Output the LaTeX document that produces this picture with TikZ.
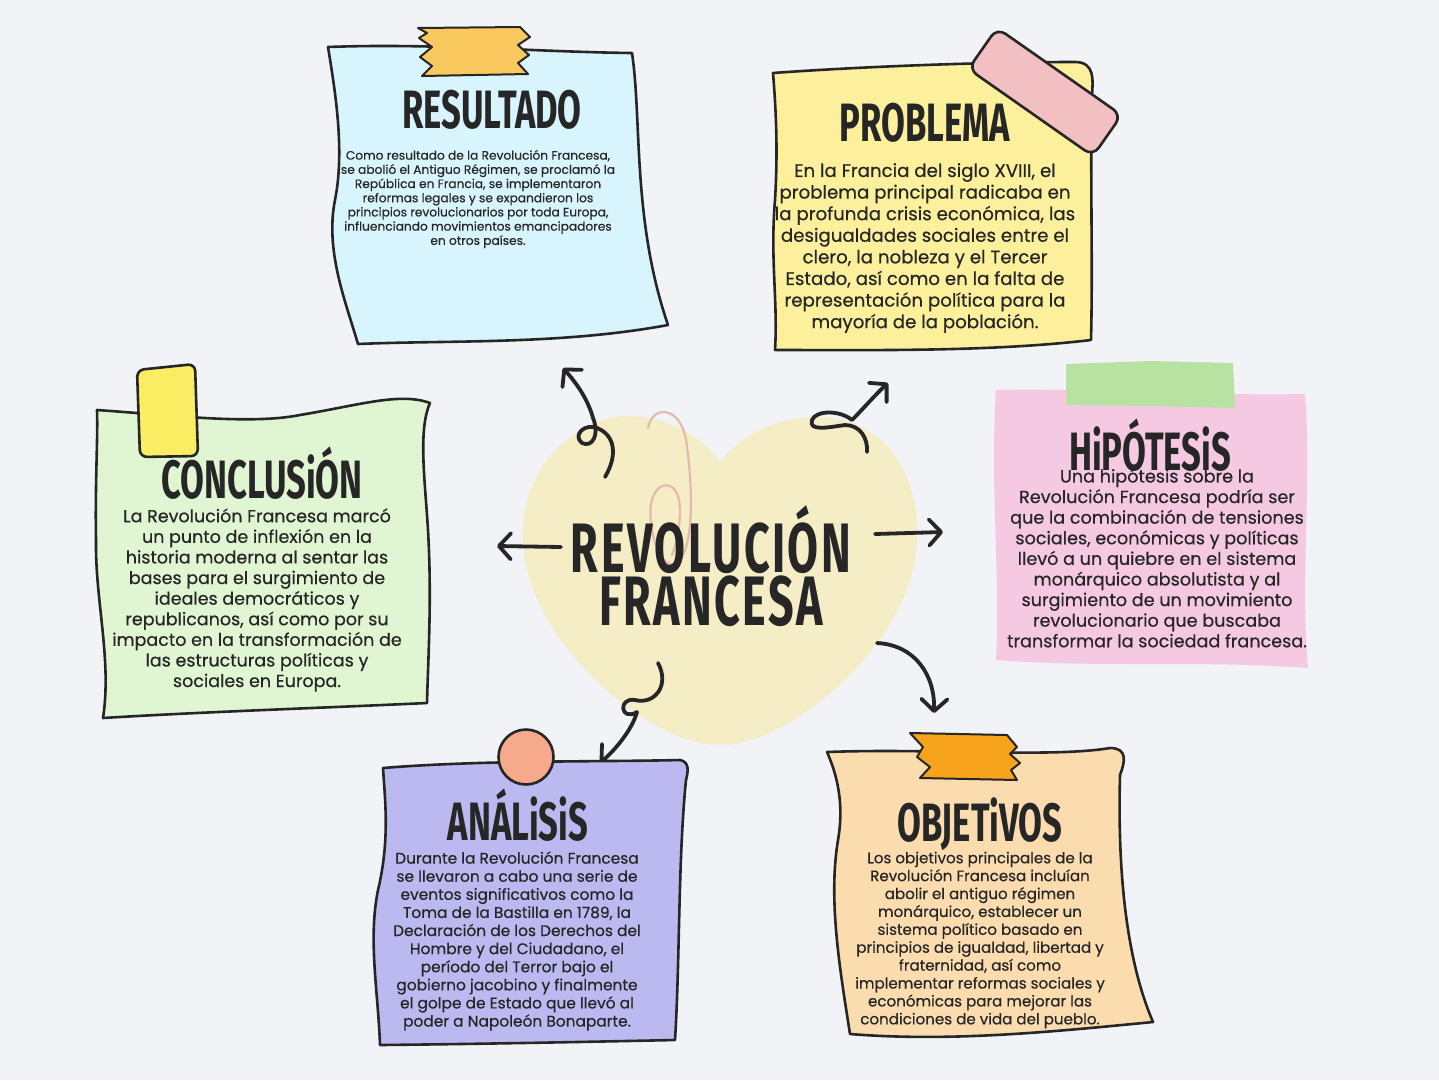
\documentclass[tikz,border=0pt]{standalone}
\usepackage{fontspec}
\setmainfont{Poppins}[FakeBold=0.5]
\newfontfamily\titlefont{Fira Sans}[FakeStretch=0.64]
\usetikzlibrary{arrows.meta}
\definecolor{bg}{HTML}{F1F3F6}
\definecolor{ink}{HTML}{262626}
\definecolor{heartc}{HTML}{F4EDC6}
\definecolor{clipc}{HTML}{E6B9AE}
\definecolor{resc}{HTML}{D8F4FD}
\definecolor{restape}{HTML}{F9C95F}
\definecolor{probc}{HTML}{FCF09D}
\definecolor{probtape}{HTML}{F2BFC3}
\definecolor{hipc}{HTML}{F6C9E2}
\definecolor{hiptape}{HTML}{B8E2A2}
\definecolor{concc}{HTML}{E0F6D2}
\definecolor{conctape}{HTML}{FAEC63}
\definecolor{anac}{HTML}{BBB9EF}
\definecolor{anadot}{HTML}{F7A98C}
\definecolor{objc}{HTML}{FBDCAF}
\definecolor{objtape}{HTML}{F8A31C}
\tikzset{
  note/.style={draw=ink, line width=2.6pt, line join=round},
  tapebox/.style={draw=ink, line width=2pt, line join=round},
  curlyarrow/.style={draw=ink, line width=3.8pt, line cap=round, line join=round,
    -{Straight Barb[length=12pt,width=26pt,line cap=round,line join=round]}},
  ttl/.style={font=\titlefont\bfseries\fontsize{54}{54}\selectfont, text=ink, anchor=base, inner sep=0pt, text depth=0pt},
  body/.style={text=ink, align=center, inner sep=0pt},
}
\begin{document}
\begin{tikzpicture}[x=1pt,y=-1pt]
\useasboundingbox (0,0) rectangle (1439,1080);
\fill[bg] (0,0) rectangle (1439,1080);

% heart
\fill[heartc] (720,462) .. controls (690,420) and (630,405) .. (590,425)
  .. controls (540,450) and (515,500) .. (525,560)
  .. controls (540,650) and (650,745) .. (720,745)
  .. controls (790,745) and (900,650) .. (915,560)
  .. controls (925,495) and (900,440) .. (850,422)
  .. controls (805,408) and (748,425) .. (720,462) -- cycle;
% pink clip
\draw[clipc, line width=2.2pt, line cap=round] (648,428) .. controls (652,405) and (680,405) .. (686,440)
  .. controls (692,480) and (695,540) .. (680,560) .. controls (662,580) and (645,525) .. (652,500)
  .. controls (658,478) and (680,480) .. (680,510) .. controls (680,530) and (676,545) .. (672,555);

% centre title
\node[ttl, anchor=center, align=center, text depth=, font=\titlefont\bfseries\fontsize{70}{53}\selectfont\addfontfeature{LetterSpace=3.5}] (title) at (711,566) {REVOLUCIÓN\\FRANCESA};

% arrow end points
\coordinate (a1s) at (605,477); \coordinate (a1e) at (563,368);
\coordinate (a2s) at (867,452); \coordinate (a2e) at (888,383);
\coordinate (a3s) at (561,547); \coordinate (a3e) at (497,546);
\coordinate (a4s) at (875,534); \coordinate (a4e) at (943,532);
\coordinate (a5s) at (877,643); \coordinate (a5e) at (934,713);
\coordinate (a6s) at (658,663); \coordinate (a6e) at (600,763);

\draw[curlyarrow] (a1s) .. controls (618,455) and (615,435) .. (597,428)
  .. controls (585,423) and (572,435) .. (582,443)
  .. controls (592,448) and (600,435) .. (593,418)
  .. controls (588,400) and (578,385) .. (a1e);
\draw[curlyarrow] (a2s) .. controls (868,438) and (860,425) .. (845,425)
  .. controls (830,427) and (808,432) .. (812,420)
  .. controls (816,410) and (840,410) .. (852,420)
  .. controls (862,410) and (875,395) .. (a2e);
\draw[curlyarrow] (a3s) -- (a3e);
\draw[curlyarrow] (a4s) -- (a4e);
\draw[curlyarrow] (a5s) .. controls (915,645) and (935,675) .. (a5e);
\draw[curlyarrow] (a6s) .. controls (670,685) and (655,705) .. (635,700)
  .. controls (618,697) and (620,722) .. (637,712)
  .. controls (632,730) and (615,750) .. (a6e);

% RESULTADO
\path[note, fill=resc] (328,47) .. controls (430,43) and (540,52) .. (632,53)
  .. controls (642,120) and (632,220) .. (668,325)
  .. controls (560,345) and (450,340) .. (358,344)
  .. controls (345,300) and (325,250) .. (335,200)
  .. controls (345,150) and (335,90) .. (328,47) -- cycle;
\path[tapebox, fill=restape] (418,28) -- (520,27) -- (530,37) -- (518,45) -- (529,55) -- (518,63) -- (528,74)
  -- (422,76) -- (432,66) -- (420,57) -- (432,47) -- (419,38) -- (427,33) -- cycle;
\node[ttl] (rt) at (492,128) {RESULTADO};
\node[body, font=\fontsize{12.2}{14.2}\selectfont] (rb) at (478,199) {Como resultado de la Revolución Francesa,\\
se abolió el Antiguo Régimen, se proclamó la\\
República en Francia, se implementaron\\
reformas legales y se expandieron los\\
principios revolucionarios por toda Europa,\\
influenciando movimientos emancipadores\\
en otros países.};

% PROBLEMA
\path[note, fill=probc] (773,73) .. controls (870,66) and (990,62) .. (1075,62)
  .. controls (1095,62) and (1093,80) .. (1092,95)
  .. controls (1090,180) and (1093,260) .. (1091,340)
  .. controls (990,352) and (870,350) .. (775,350)
  .. controls (778,300) and (770,260) .. (775,200)
  .. controls (778,150) and (776,110) .. (773,73) -- cycle;
\node[body, font=\fontsize{18.2}{21.6}\selectfont] (pb) at (925,248) {En la Francia del siglo XVIII, el\\
problema principal radicaba en\\
la profunda crisis económica, las\\
desigualdades sociales entre el\\
clero, la nobleza y el Tercer\\
Estado, así como en la falta de\\
representación política para la\\
mayoría de la población.};
\node[draw=ink, line width=2.6pt, fill=probtape, rounded corners=10pt, rotate=-35,
  minimum width=152pt, minimum height=50pt] (ptape) at (1045,92) {};
\node[ttl] (pt) at (925,141) {PROBLEMA};

% HIPOTESIS
\fill[hipc] (996,390) .. controls (1100,388) and (1200,396) .. (1305,394)
  .. controls (1312,480) and (1300,580) .. (1308,668)
  .. controls (1200,660) and (1100,668) .. (996,660)
  .. controls (1000,570) and (990,480) .. (996,390) -- cycle;
\fill[hiptape] (1066,364) -- (1150,361) -- (1233,363) -- (1235,408) -- (1150,406) -- (1066,405) -- cycle;
\node[body, font=\fontsize{17.6}{20.6}\selectfont] (hb) at (1157,558) {Una hipótesis sobre la\\
Revolución Francesa podría ser\\
que la combinación de tensiones\\
sociales, económicas y políticas\\
llevó a un quiebre en el sistema\\
monárquico absolutista y al\\
surgimiento de un movimiento\\
revolucionario que buscaba\\
transformar la sociedad francesa.};
\node[ttl] (ht) at (1150,470) {HiPÓTESiS};

% CONCLUSION
\path[note, fill=concc] (97,410) .. controls (170,415) and (250,425) .. (300,415)
  .. controls (360,405) and (400,392) .. (430,403)
  .. controls (418,430) and (425,480) .. (428,530)
  .. controls (432,600) and (428,660) .. (427,703)
  .. controls (320,708) and (200,712) .. (103,718)
  .. controls (112,660) and (95,600) .. (96,540)
  .. controls (95,480) and (98,440) .. (97,410) -- cycle;
\path[note, fill=conctape, rounded corners=7pt] (137,370) -- (166,367) -- (195,364) -- (198,456) -- (140,457) -- cycle;
\node[ttl] (ct) at (262,498) {CONCLUSiÓN};
\node[body, font=\fontsize{17.5}{20.6}\selectfont] (cb) at (257,600) {La Revolución Francesa marcó\\
un punto de inflexión en la\\
historia moderna al sentar las\\
bases para el surgimiento de\\
ideales democráticos y\\
republicanos, así como por su\\
impacto en la transformación de\\
las estructuras políticas y\\
sociales en Europa.};

% ANALISIS
\path[note, fill=anac] (383,768) .. controls (480,760) and (600,762) .. (680,760)
  .. controls (690,762) and (688,772) .. (686,780)
  .. controls (678,860) and (680,960) .. (675,1040)
  .. controls (580,1042) and (480,1044) .. (380,1045)
  .. controls (378,990) and (368,940) .. (378,890)
  .. controls (390,840) and (385,800) .. (383,768) -- cycle;
\node[draw=ink, line width=2.6pt, fill=anadot, circle, minimum size=55pt, inner sep=0pt] (adot) at (526,757) {};
\node[ttl] (at) at (518,840) {ANÁLiSiS};
\node[body, font=\fontsize{15.4}{18.1}\selectfont] (ab) at (517,941) {Durante la Revolución Francesa\\
se llevaron a cabo una serie de\\
eventos significativos como la\\
Toma de la Bastilla en 1789, la\\
Declaración de los Derechos del\\
Hombre y del Ciudadano, el\\
período del Terror bajo el\\
gobierno jacobino y finalmente\\
el golpe de Estado que llevó al\\
poder a Napoleón Bonaparte.};

% OBJETIVOS
\path[note, fill=objc] (827,752) .. controls (930,748) and (1050,758) .. (1110,748)
  .. controls (1128,748) and (1125,762) .. (1120,775)
  .. controls (1118,850) and (1122,950) .. (1153,1022)
  .. controls (1050,1032) and (950,1042) .. (850,1034)
  .. controls (840,970) and (828,900) .. (838,840)
  .. controls (845,800) and (835,770) .. (827,752) -- cycle;
\path[tapebox, fill=objtape] (910,733) -- (1007,735) -- (1017,747) -- (1010,754) -- (1020,763) -- (1011,770) -- (1017,780)
  -- (920,778) -- (930,767) -- (917,757) -- (923,747) -- cycle;
\node[ttl] (ot) at (980,841) {OBJETiVOS};
\node[body, font=\fontsize{15.1}{17.9}\selectfont] (ob) at (980,940) {Los objetivos principales de la\\
Revolución Francesa incluían\\
abolir el antiguo régimen\\
monárquico, establecer un\\
sistema político basado en\\
principios de igualdad, libertad y\\
fraternidad, así como\\
implementar reformas sociales y\\
económicas para mejorar las\\
condiciones de vida del pueblo.};
\end{tikzpicture}
\end{document}
